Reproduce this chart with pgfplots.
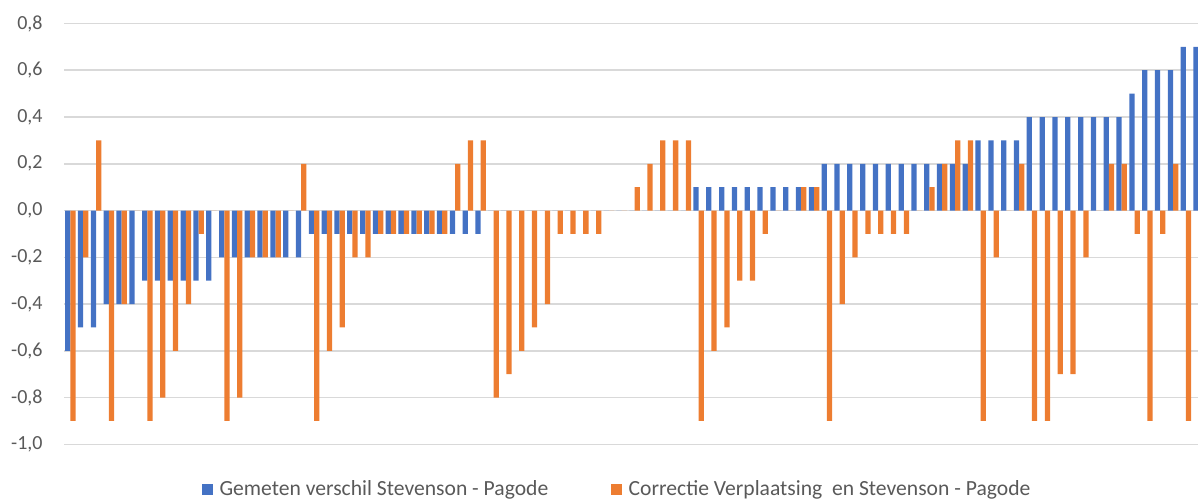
\documentclass[border=0pt]{standalone}
\usepackage{pgfplots}
\usepackage{pgfplotstable}
\pgfplotsset{compat=1.18}
\usepackage{fontspec}
\setmainfont{Carlito}
\definecolor{barblue}{HTML}{4472C4}
\definecolor{barorange}{HTML}{ED7D31}
\definecolor{gridgray}{HTML}{D9D9D9}
\definecolor{labelgray}{HTML}{595959}
\pgfplotstableread{
x b o
0 -0.6 -0.9
1 -0.5 -0.2
2 -0.5 0.3
3 -0.4 -0.9
4 -0.4 -0.4
5 -0.4 0
6 -0.3 -0.9
7 -0.3 -0.8
8 -0.3 -0.6
9 -0.3 -0.4
10 -0.3 -0.1
11 -0.3 0
12 -0.2 -0.9
13 -0.2 -0.8
14 -0.2 -0.2
15 -0.2 -0.2
16 -0.2 -0.2
17 -0.2 0
18 -0.2 0.2
19 -0.1 -0.9
20 -0.1 -0.6
21 -0.1 -0.5
22 -0.1 -0.2
23 -0.1 -0.2
24 -0.1 -0.1
25 -0.1 -0.1
26 -0.1 -0.1
27 -0.1 -0.1
28 -0.1 -0.1
29 -0.1 -0.1
30 -0.1 0.2
31 -0.1 0.3
32 -0.1 0.3
33 0 -0.8
34 0 -0.7
35 0 -0.6
36 0 -0.5
37 0 -0.4
38 0 -0.1
39 0 -0.1
40 0 -0.1
41 0 -0.1
42 0 0
43 0 0
44 0 0.1
45 0 0.2
46 0 0.3
47 0 0.3
48 0 0.3
49 0.1 -0.9
50 0.1 -0.6
51 0.1 -0.5
52 0.1 -0.3
53 0.1 -0.3
54 0.1 -0.1
55 0.1 0
56 0.1 0
57 0.1 0.1
58 0.1 0.1
59 0.2 -0.9
60 0.2 -0.4
61 0.2 -0.2
62 0.2 -0.1
63 0.2 -0.1
64 0.2 -0.1
65 0.2 -0.1
66 0.2 0
67 0.2 0.1
68 0.2 0.2
69 0.2 0.3
70 0.2 0.3
71 0.3 -0.9
72 0.3 -0.2
73 0.3 0
74 0.3 0.2
75 0.4 -0.9
76 0.4 -0.9
77 0.4 -0.7
78 0.4 -0.7
79 0.4 -0.2
80 0.4 0
81 0.4 0.2
82 0.4 0.2
83 0.5 -0.1
84 0.6 -0.9
85 0.6 -0.1
86 0.6 0.2
87 0.7 -0.9
88 0.7 0
}\data
\begin{document}
\begin{tikzpicture}
\path[use as bounding box] (0,0) rectangle (599pt,250.5pt);
\begin{axis}[
  at={(32pt,28.35pt)}, anchor=south west,
  scale only axis, width=567pt, height=210.4pt,
  xmin=-0.5, xmax=87.95, ymin=-1, ymax=0.8,
  xtick=\empty,
  ytick={-1,-0.8,-0.6,-0.4,-0.2,0,0.2,0.4,0.6,0.8},
  yticklabels={{-1,0},{-0,8},{-0,6},{-0,4},{-0,2},{0,0},{0,2},{0,4},{0,6},{0,8}},
  ymajorgrids, grid style={draw=gridgray, line width=0.75pt},
  axis line style={draw=none}, tick style={draw=none},
  major tick length=0pt,
  yticklabel style={font=\fontsize{10}{12}\selectfont, text=labelgray, inner sep=0pt, anchor=east, xshift=-10.5pt},
  legend cell align=left,
  legend style={at={(0.487,0)}, anchor=center, yshift=-22.5pt, draw=none, fill=none,
    legend columns=2, font=\fontsize{10.8}{13}\selectfont, text=labelgray,
    inner sep=0pt, nodes={inner sep=0pt},
    /tikz/every odd column/.append style={column sep=3.5pt},
    /tikz/every even column/.append style={column sep=31.5pt}},
]
\addplot[ybar, bar width=0.41, bar shift=-0.205, fill=barblue, draw=none, forget plot] table[x=x,y=b] {\data};
\addplot[ybar, bar width=0.41, bar shift=0.205, fill=barorange, draw=none, forget plot] table[x=x,y=o] {\data};
\addlegendimage{legend image code/.code={\fill[barblue] (0pt,-2.4pt) rectangle (4.8pt,2.4pt);}}
\addlegendentry{Gemeten verschil Stevenson - Pagode}
\addlegendimage{legend image code/.code={\fill[barorange] (0pt,-2.4pt) rectangle (4.8pt,2.4pt);}}
\addlegendentry{Correctie Verplaatsing\ \ en Stevenson - Pagode}
\end{axis}
\end{tikzpicture}
\end{document}
